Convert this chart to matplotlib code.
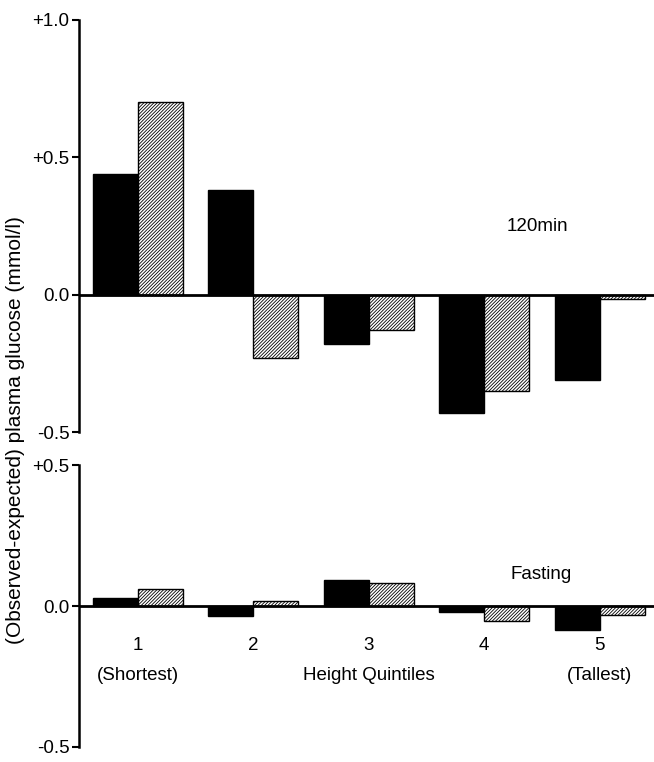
import matplotlib.pyplot as plt
import numpy as np

plt.rcParams['font.family'] = ['Liberation Sans', 'DejaVu Sans']
plt.rcParams['hatch.linewidth'] = 0.6

# Height quintiles
quintiles = [1, 2, 3, 4, 5]
quintile_labels = ["1", "2", "3", "4", "5"]

# 120 min plasma glucose (observed - expected), mmol/l
glucose_120_black = [0.44, 0.38, -0.18, -0.43, -0.31]
glucose_120_hatch = [0.70, -0.23, -0.13, -0.35, -0.015]

# Fasting plasma glucose (observed - expected), mmol/l
fasting_black = [0.03, -0.035, 0.093, -0.022, -0.085]
fasting_hatch = [0.06, 0.018, 0.082, -0.054, -0.033]

fig = plt.figure(figsize=(6.54, 7.62), dpi=100)

ax1 = fig.add_axes([0.121, 0.433, 0.879, 0.541])
ax2 = fig.add_axes([0.121, 0.0197, 0.879, 0.370])

x = np.array(quintiles, dtype=float)
w = 0.39
fs = 13.5


def style_panel(ax, ylim, yticks, ylabels):
    ax.set_xlim(0.49, 5.47)
    ax.set_ylim(*ylim)
    for s in ['top', 'right', 'bottom']:
        ax.spines[s].set_visible(False)
    ax.spines['left'].set_linewidth(1.8)
    ax.set_xticks([])
    ax.set_yticks(yticks)
    ax.set_yticklabels(ylabels, fontsize=fs)
    ax.tick_params(axis='y', direction='out', length=5, width=1.5, pad=2)
    ax.axhline(0, color='black', lw=2, zorder=3)


# ---------- top panel: 120 min ----------
ax1.bar(x - w / 2, glucose_120_black, width=w, color='black', edgecolor='black', lw=1)
ax1.bar(x + w / 2, glucose_120_hatch, width=w, color='white', edgecolor='black',
        lw=1, hatch='//////////')
style_panel(ax1, (-0.5, 1.0), [-0.5, 0.0, 0.5, 1.0], ["-0.5", "0.0", "+0.5", "+1.0"])
ax1.text(4.46, 0.247, "120min", fontsize=fs, ha='center', va='center')

# ---------- bottom panel: fasting ----------
ax2.bar(x - w / 2, fasting_black, width=w, color='black', edgecolor='black', lw=1)
ax2.bar(x + w / 2, fasting_hatch, width=w, color='white', edgecolor='black',
        lw=1, hatch='//////////')
style_panel(ax2, (-0.5, 0.5), [-0.5, 0.0, 0.5], ["-0.5", "0.0", "+0.5"])
ax2.text(4.49, 0.113, "Fasting", fontsize=fs, ha='center', va='center')

for xi, lab in zip(x, quintile_labels):
    ax2.text(xi, -0.14, lab, fontsize=fs, ha='center', va='center')
ax2.text(x[0], -0.248, "(Shortest)", fontsize=fs, ha='center', va='center')
ax2.text(x[2], -0.248, "Height Quintiles", fontsize=fs, ha='center', va='center')
ax2.text(x[4], -0.248, "(Tallest)", fontsize=fs, ha='center', va='center')

fig.text(0.024, 0.436, "(Observed-expected) plasma glucose (mmol/l)",
         rotation=90, fontsize=15, ha='center', va='center')

fig.savefig("out.png", dpi=100)
